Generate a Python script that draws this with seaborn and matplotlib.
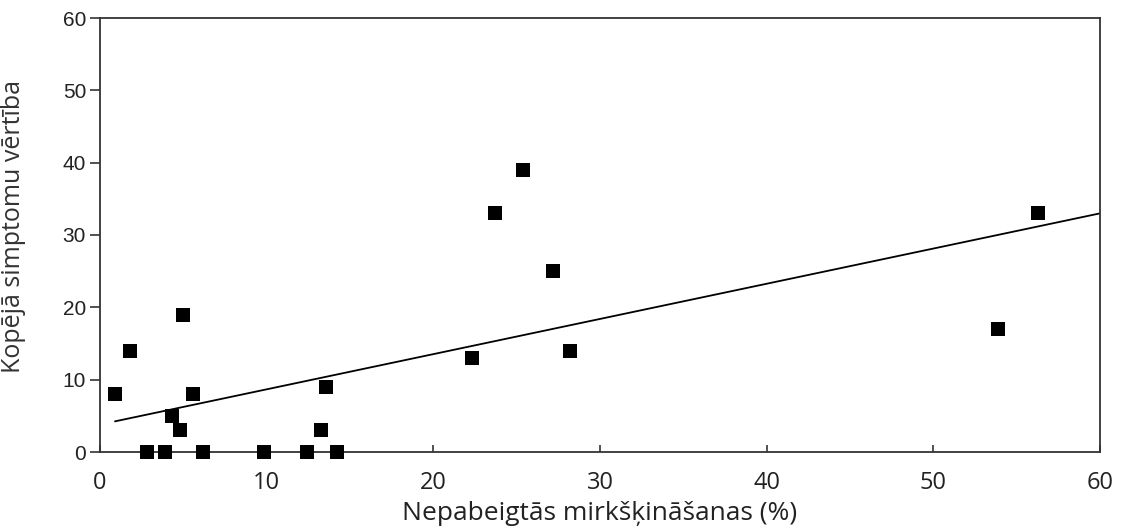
import numpy as np
import pandas as pd
import matplotlib
matplotlib.use("Agg")
import matplotlib.pyplot as plt
import seaborn as sns

# Data
blink_pct = [0.9, 1.8, 2.8, 3.9, 4.3, 4.8, 4.95, 5.55, 6.2, 9.85, 12.4, 13.25,
             13.55, 14.2, 22.3, 23.7, 25.4, 27.2, 28.2, 53.9, 56.3]
symptom_score = [8, 14, 0, 0, 5, 3, 19, 8, 0, 0, 0, 3,
                 9, 0, 13, 33, 39, 25, 14, 17, 33]
x_ticks = [0, 10, 20, 30, 40, 50, 60]
y_ticks = [0, 10, 20, 30, 40, 50, 60]
x_label = "Nepabeigtās mirkšķināšanas (%)"
y_label = "Kopējā simptomu vērtība"

df = pd.DataFrame({"x": blink_pct, "y": symptom_score})

sns.set_style("white")
plt.rcParams["font.family"] = ["Liberation Sans", "DejaVu Sans"]

fig = plt.figure(figsize=(11.28, 5.28), dpi=100)
ax = fig.add_axes([100 / 1128, (528 - 452) / 528, 1000 / 1128, 434 / 528])

# regression line: OLS fit from min x to right edge of axis
slope, intercept = np.polyfit(df["x"], df["y"], 1)
line_x = np.array([df["x"].min(), x_ticks[-1]])
sns.lineplot(x=line_x, y=intercept + slope * line_x, ax=ax, color="black",
             linewidth=1.3, zorder=2)

sns.scatterplot(data=df, x="x", y="y", ax=ax, marker="s", color="black",
                s=95, edgecolor="black", linewidth=0, zorder=3, clip_on=False)

ax.set_xlim(0, 60)
ax.set_ylim(0, 60)
ax.set_xticks(x_ticks)
ax.set_yticks(y_ticks)
for s in ax.spines.values():
    s.set_color("#333333")
    s.set_linewidth(1.3)

ax.tick_params(axis="y", direction="out", length=7, width=1.2, color="#333333",
               labelsize=15, pad=3, left=True)
ax.tick_params(axis="x", direction="in", length=5, width=1.2, color="#333333",
               labelsize=17, pad=14, bottom=True)
for lab in ax.get_xticklabels():
    lab.set_family(["Open Sans", "DejaVu Sans"])
    lab.set_color("#222222")
for lab in ax.get_yticklabels():
    lab.set_color("#222222")

ax.set_xlabel(x_label, fontsize=19, family=["Open Sans", "DejaVu Sans"],
              color="#222222", labelpad=4)
ax.set_ylabel(y_label, fontsize=18, family=["Open Sans", "DejaVu Sans"],
              color="#333333", labelpad=14)
ax.yaxis.set_label_coords(-0.074, 0.52)

fig.savefig("out.png", dpi=100)
